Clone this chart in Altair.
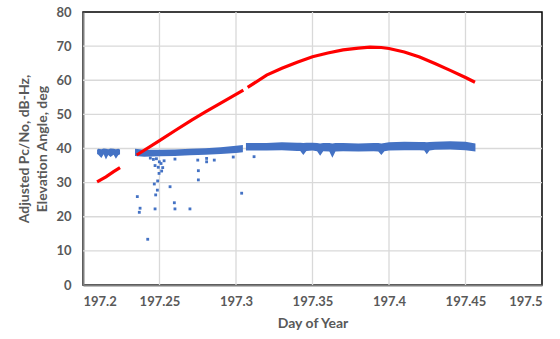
import altair as alt
import pandas as pd

# ---- Elevation angle (red), three segments ----
elev_seg1_x = [197.2092, 197.2150, 197.2200, 197.2242]
elev_seg1_y = [30.2, 31.7, 33.2, 34.4]
elev_seg2_x = [197.2351, 197.2500, 197.2600, 197.2710, 197.2800, 197.2900, 197.3048]
elev_seg2_y = [38.1, 42.3, 45.2, 48.3, 50.7, 53.3, 57.1]
elev_seg3_x = [197.3076, 197.3200, 197.3300, 197.3400, 197.3500, 197.3600, 197.3700,
               197.3800, 197.3876, 197.3950, 197.4000, 197.4100, 197.4200, 197.4300,
               197.4400, 197.4500, 197.4562]
elev_seg3_y = [57.9, 61.5, 63.5, 65.3, 66.9, 68.0, 68.9,
               69.4, 69.7, 69.6, 69.3, 68.3, 66.8, 64.9,
               62.9, 60.8, 59.4]

# ---- Adjusted Pc/No (blue) dense band: upper / lower envelope ----
cn_a_x = [197.2092, 197.2100, 197.2120, 197.2135, 197.2150, 197.2165, 197.2180,
          197.2200, 197.2215, 197.2230, 197.2242]
cn_a_hi = [39.6, 39.9, 39.8, 40.0, 39.9, 39.8, 40.0, 39.9, 39.8, 39.9, 39.7]
cn_a_lo = [38.4, 38.2, 37.2, 38.3, 36.8, 38.1, 37.5, 38.2, 37.0, 38.0, 38.3]

cn_b_x = [197.2340, 197.2400, 197.2500, 197.2600, 197.2700, 197.2800, 197.2900,
          197.3000, 197.3045]
cn_b_hi = [39.9, 39.6, 39.6, 39.7, 39.9, 40.1, 40.4, 40.8, 41.0]
cn_b_lo = [37.8, 37.6, 37.7, 37.8, 38.0, 38.2, 38.4, 38.7, 38.9]

cn_c_x = [197.3065, 197.3200, 197.3300, 197.3400, 197.3420, 197.3440, 197.3460,
          197.3500, 197.3530, 197.3550, 197.3570, 197.3610, 197.3630, 197.3650,
          197.3700, 197.3800, 197.3900, 197.3930, 197.3950, 197.3970, 197.4000,
          197.4100, 197.4200, 197.4230, 197.4247, 197.4265, 197.4300, 197.4400,
          197.4500, 197.4565]
cn_c_hi = [41.6, 41.6, 41.8, 41.7, 41.7, 41.6, 41.7,
           41.7, 41.6, 41.5, 41.6, 41.6, 41.5, 41.6,
           41.6, 41.5, 41.6, 41.6, 41.5, 41.6, 41.8,
           42.0, 41.9, 41.9, 41.8, 41.9, 42.0, 42.1,
           42.0, 41.5]
cn_c_lo = [39.4, 39.4, 39.5, 39.3, 39.3, 38.1, 39.3,
           39.4, 39.2, 37.9, 39.2, 39.1, 37.3, 39.1,
           39.2, 39.1, 39.2, 39.1, 38.1, 39.2, 39.4,
           39.5, 39.5, 39.4, 38.3, 39.4, 39.6, 39.7,
           39.5, 39.1]

# ---- Adjusted Pc/No outliers ----
out_x = [197.2355, 197.2373, 197.2368, 197.2423, 197.2471, 197.2492, 197.2499,
         197.2514, 197.2497, 197.2521, 197.2488, 197.2466, 197.2486, 197.2475,
         197.2471, 197.2569, 197.2597, 197.2601, 197.2699, 197.2754, 197.2754,
         197.3037, 197.2808, 197.2808, 197.2858, 197.2750, 197.2601, 197.2982,
         197.3118, 197.2480, 197.2510, 197.2460, 197.2530, 197.2440]
out_y = [25.9, 22.5, 21.3, 13.4, 35.0, 34.5, 36.1,
         33.4, 32.7, 34.4, 30.5, 29.6, 27.8, 26.4,
         22.3, 28.8, 24.1, 22.3, 22.3, 33.5, 30.8,
         26.9, 37.1, 36.1, 36.6, 36.6, 36.9, 37.5,
         37.6, 37.0, 35.6, 36.8, 36.4, 37.2]

x_ticks = [197.2, 197.25, 197.3, 197.35, 197.4, 197.45, 197.5]
y_ticks = [0, 10, 20, 30, 40, 50, 60, 70, 80]

RED = "#ff0000"
BLUE = "#4472c4"
GRAY = "#595959"
GRID = "#d9d9d9"

elev = pd.concat([
    pd.DataFrame({"day": elev_seg1_x, "val": elev_seg1_y, "seg": "a"}),
    pd.DataFrame({"day": elev_seg2_x, "val": elev_seg2_y, "seg": "b"}),
    pd.DataFrame({"day": elev_seg3_x, "val": elev_seg3_y, "seg": "c"}),
])
band = pd.concat([
    pd.DataFrame({"day": cn_a_x, "hi": cn_a_hi, "lo": cn_a_lo, "seg": "a"}),
    pd.DataFrame({"day": cn_b_x, "hi": cn_b_hi, "lo": cn_b_lo, "seg": "b"}),
    pd.DataFrame({"day": cn_c_x, "hi": cn_c_hi, "lo": cn_c_lo, "seg": "c"}),
])
outl = pd.DataFrame({"day": out_x, "val": out_y})
xgrid = pd.DataFrame({"day": x_ticks[1:-1]})
ygrid = pd.DataFrame({"val": y_ticks[1:-1]})

xscale = alt.Scale(domain=[197.2, 197.5], nice=False, zero=False)
yscale = alt.Scale(domain=[0, 80], nice=False)


def xax():
    return alt.Axis(values=x_ticks, format=".2~f", title="Day of Year", grid=False,
                    labelOverlap=False)


def yax():
    return alt.Axis(values=y_ticks, title=["Adjusted Pc/No, dB-Hz,", "Elevation Angle, deg"],
                    grid=False, labelOverlap=False)


xgrid_layer = alt.Chart(xgrid).mark_rule(color=GRID, strokeWidth=1.3).encode(
    x=alt.X("day:Q", scale=xscale, axis=xax()),
)
ygrid_layer = alt.Chart(ygrid).mark_rule(color=GRID, strokeWidth=1.3).encode(
    y=alt.Y("val:Q", scale=yscale, axis=yax()),
)
band_layer = alt.Chart(band).mark_area(color=BLUE, opacity=1).encode(
    x=alt.X("day:Q", scale=xscale, axis=xax()),
    y=alt.Y("hi:Q", scale=yscale, axis=yax()),
    y2="lo:Q",
    detail="seg:N",
)
pts_layer = alt.Chart(outl).mark_square(color=BLUE, size=8, opacity=1).encode(
    x=alt.X("day:Q", scale=xscale, axis=xax()),
    y=alt.Y("val:Q", scale=yscale, axis=yax()),
)
line_layer = alt.Chart(elev).mark_line(color=RED, strokeWidth=3.2).encode(
    x=alt.X("day:Q", scale=xscale, axis=xax()),
    y=alt.Y("val:Q", scale=yscale, axis=yax()),
    detail="seg:N",
)

chart = alt.layer(xgrid_layer, ygrid_layer, band_layer, pts_layer, line_layer).properties(
    width=459, height=273, autosize="none",
    padding={"left": 83, "top": 12, "right": 18, "bottom": 54},
).configure_view(
    stroke="black", strokeWidth=1.5
).configure_axis(
    labelFont="Lato", labelFontWeight="bold", labelFontSize=13, labelColor=GRAY,
    titleFont="Lato", titleFontWeight="bold", titleFontSize=14, titleColor=GRAY,
    domainColor="#7f7f7f", domainWidth=2,
    ticks=False,
).configure_axisY(
    labelPadding=12, titlePadding=6, titleLineHeight=18,
).configure_axisX(
    labelPadding=10, titlePadding=8,
)

chart.save("out.html", embed_options={"renderer": "svg", "actions": False})
